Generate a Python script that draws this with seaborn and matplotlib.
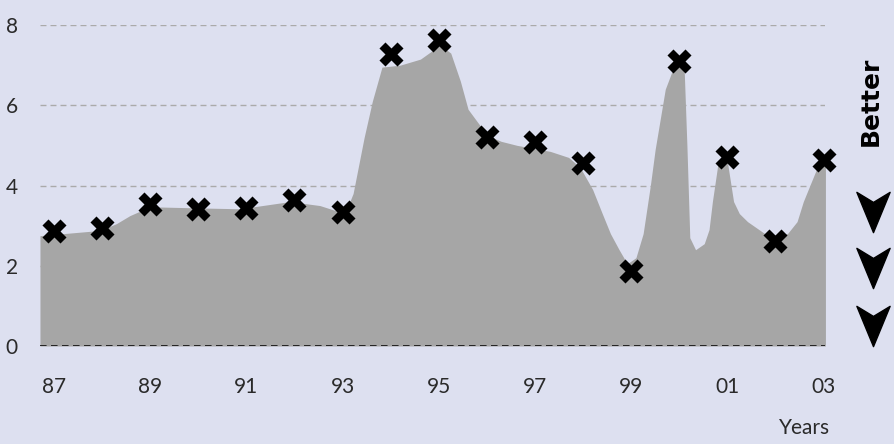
import numpy as np
import pandas as pd
import matplotlib
matplotlib.use("Agg")
import matplotlib.pyplot as plt
from matplotlib.path import Path
import seaborn as sns

# yearly values (crosses)
years = list(range(1987, 2004))
values = [2.87, 2.94, 3.54, 3.42, 3.44, 3.64, 3.34, 7.28, 7.63,
          5.21, 5.09, 4.56, 1.87, 7.11, 4.71, 2.62, 4.64]

# outline of the grey area
area_x = [1986.71, 1987.96, 1988.3, 1988.58, 1989.0, 1990.04, 1990.87, 1991.91, 1992.53,
          1993.05, 1993.22, 1993.45, 1993.62, 1993.82, 1994.2, 1994.62, 1995.03, 1995.25,
          1995.45, 1995.61, 1996.01, 1996.3, 1996.63, 1997.32, 1997.7, 1997.94, 1998.2,
          1998.4, 1998.57, 1998.75, 1998.92, 1999.1, 1999.25, 1999.4, 1999.5, 1999.71,
          1999.9, 2000.1, 2000.16, 2000.22, 2000.34, 2000.52, 2000.62, 2000.69, 2000.8,
          2000.88, 2001.0, 2001.13, 2001.25, 2001.42, 2001.84, 2002.25, 2002.45, 2002.58,
          2002.75, 2002.87, 2003.04]
area_y = [2.75, 2.88, 3.05, 3.25, 3.47, 3.44, 3.42, 3.6, 3.5,
          3.3, 3.8, 5.2, 6.1, 6.95, 7.0, 7.15, 7.5, 7.3,
          6.6, 5.9, 5.25, 5.1, 5.0, 4.85, 4.7, 4.45, 3.9,
          3.3, 2.8, 2.4, 2.05, 2.2, 2.8, 4.0, 4.9, 6.4,
          7.0, 7.0, 5.0, 2.7, 2.4, 2.55, 2.9, 3.6, 4.5,
          4.65, 4.6, 3.6, 3.3, 3.1, 2.75, 2.8, 3.1, 3.6,
          4.1, 4.45, 4.65]

tick_years = [1987, 1989, 1991, 1993, 1995, 1997, 1999, 2001, 2003]
tick_labels = ["87", "89", "91", "93", "95", "97", "99", "01", "03"]
y_ticks = [0, 2, 4, 6, 8]

bg = "#dde0f0"
sns.set_theme(style="white", rc={"figure.facecolor": bg, "axes.facecolor": bg})
plt.rcParams["font.family"] = ["Lato", "DejaVu Sans"]

fig = plt.figure(figsize=(8.94, 4.44), dpi=100)
ax = fig.add_axes([0.0447, 0.2207, 0.8786, 0.723])

ax.fill_between(area_x, 0, area_y, color="#a6a6a6", linewidth=0, zorder=1)

for y in y_ticks[1:]:
    ax.axhline(y, color="#aaaaaa", lw=1, dashes=(4.3, 2.9), zorder=0.5)
ax.axhline(0, color="black", lw=1.1, dashes=(4.3, 2.9), zorder=2)

df = pd.DataFrame({"year": years, "value": values})
sns.scatterplot(data=df, x="year", y="value", marker="X", s=300, color="black",
                edgecolor="black", linewidth=0, ax=ax, zorder=3, clip_on=False)

txt = "#2a2a2a"
ax.set_xlim(area_x[0], area_x[-1])
ax.set_ylim(0, 8)
ax.set_xticks(tick_years)
ax.set_xticklabels(tick_labels, fontsize=15, color=txt)
ax.set_yticks(y_ticks)
ax.set_yticklabels([str(v) for v in y_ticks], fontsize=15, color=txt)
ax.tick_params(axis="x", length=0, pad=22)
ax.tick_params(axis="y", length=0, pad=16)
ax.set_xlabel("")
ax.set_ylabel("")
for s in ax.spines.values():
    s.set_visible(False)

fig.text(830 / 894, 1 - 428 / 444, "Years", ha="right", va="center",
         fontsize=15, color=txt)
fig.text(871 / 894, 1 - 101 / 444, "Better", rotation=90, ha="center", va="center",
         fontsize=18, fontweight="bold", family="DejaVu Sans", color="black")

# down chevrons
chev = Path([(-16.5, 20), (0, 10), (16.5, 20), (0, -20), (-16.5, 20)],
            [Path.MOVETO, Path.LINETO, Path.LINETO, Path.LINETO, Path.CLOSEPOLY])
for yc in [212, 268, 326]:
    ax.plot([873 / 894], [1 - yc / 444], marker=chev, ms=29, color="black",
            transform=fig.transFigure, clip_on=False, linestyle="none")

fig.savefig("out.png", dpi=100, facecolor=bg)
